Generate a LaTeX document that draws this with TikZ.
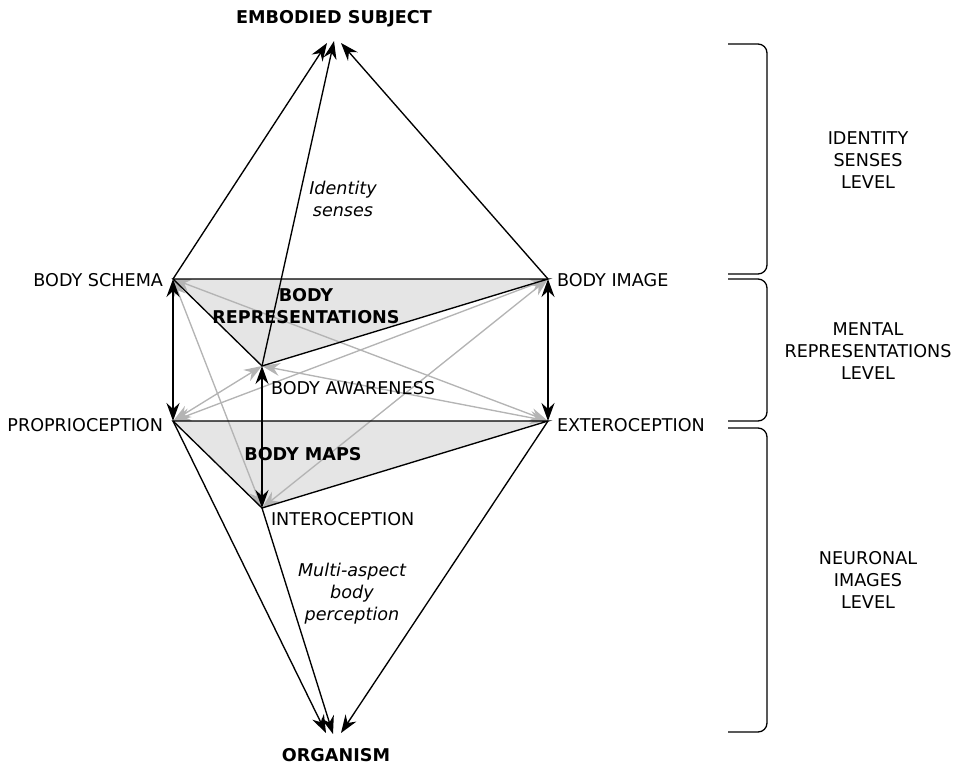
\documentclass[tikz,border=0pt]{standalone}
\usepackage{fontspec}
\setmainfont{DejaVu Sans}
\usetikzlibrary{arrows.meta}
\definecolor{lgray}{RGB}{180,180,180}
\definecolor{tfill}{RGB}{229,229,229}
\begin{document}
\begin{tikzpicture}[x=1pt,y=-1pt,
  font=\fontsize{17.6}{22}\selectfont,
  every node/.style={inner sep=0pt, outer sep=0pt},
  tp/.tip={Stealth[length=18pt,width=13pt,inset=6pt]},
  blk/.style={line width=1.35pt, black},
  gry/.style={line width=1.35pt, lgray},
  dbl/.style={tp-tp},
  one/.style={-tp},
  tri/.style={fill=tfill, draw=none},
  brace/.style={line width=1.3pt, black, rounded corners=9pt},
  lbl/.style={align=center},
  hd/.style={font=\fontsize{17.6}{22}\selectfont\bfseries},
  it/.style={align=center, font=\fontsize{17.6}{22}\selectfont\itshape}
]
\useasboundingbox (0,0) rectangle (959,765);

% vertices
\coordinate (BS) at (173,279);
\coordinate (BI) at (548,279);
\coordinate (BA) at (262,366);
\coordinate (PR) at (173,421);
\coordinate (EX) at (548,421);
\coordinate (IN) at (262,508);
\coordinate (ESl) at (327,43);
\coordinate (ESc) at (334,41);
\coordinate (ESr) at (341,43);
\coordinate (ORl) at (326,733);
\coordinate (ORc) at (333,734);
\coordinate (ORr) at (341,733);

% shaded triangles
\fill[tri] (BS) -- (BI) -- (BA) -- cycle;
\fill[tri] (PR) -- (EX) -- (IN) -- cycle;

% grey cross links
\draw[gry,dbl] (BS) -- (IN);
\draw[gry,dbl] (BS) -- (EX);
\draw[gry,dbl] (BA) -- (PR);
\draw[gry,dbl] (BA) -- (EX);
\draw[gry,dbl] (BI) -- (PR);
\draw[gry,dbl] (BI) -- (IN);

% triangle edges
\draw[blk] (BS) -- (BI) -- (BA) -- cycle;
\draw[blk] (PR) -- (EX) -- (IN) -- cycle;

% vertical links
\draw[blk,dbl] (BS) -- (PR);
\draw[blk,dbl] (BA) -- (IN);
\draw[blk,dbl] (BI) -- (EX);

% to embodied subject
\draw[blk,one] (BS) -- (ESl);
\draw[blk,one] (BA) -- (ESc);
\draw[blk,one] (BI) -- (ESr);

% to organism
\draw[blk,one] (PR) -- (ORl);
\draw[blk,one] (IN) -- (ORc);
\draw[blk,one] (EX) -- (ORr);

% labels
\node[hd] (tES) at (334,19) {EMBODIED SUBJECT};
\node[hd] (tOR) at (336,755) {ORGANISM};
\node[anchor=east] (tBS) at (163,280) {BODY SCHEMA};
\node[anchor=west] (tBI) at (557,280) {BODY IMAGE};
\node[anchor=east] (tPR) at (163,425) {PROPRIOCEPTION};
\node[anchor=west] (tEX) at (557,425) {EXTEROCEPTION};
\node[anchor=west] (tBA) at (271,388) {BODY AWARENESS};
\node[anchor=west] (tIN) at (271,519) {INTEROCEPTION};
\node[hd,align=center] (tRep) at (306,306.5) {BODY\\REPRESENTATIONS};
\node[hd] (tMaps) at (303,454) {BODY MAPS};
\node[it] (tId) at (343,199) {Identity\\senses};
\node[it] (tMul) at (352,594) {Multi-aspect\\body\\perception};

% braces
\draw[brace] (728,44) -- (767,44) -- (767,274) -- (728,274);
\draw[brace] (728,279) -- (767,279) -- (767,421) -- (728,421);
\draw[brace] (728,428) -- (767,428) -- (767,732) -- (728,732);

\node[lbl] (lvl1) at (868,160) {IDENTITY\\SENSES\\LEVEL};
\node[lbl] (lvl2) at (868,351) {MENTAL\\REPRESENTATIONS\\LEVEL};
\node[lbl] (lvl3) at (868,580) {NEURONAL\\IMAGES\\LEVEL};
\end{tikzpicture}
\end{document}
